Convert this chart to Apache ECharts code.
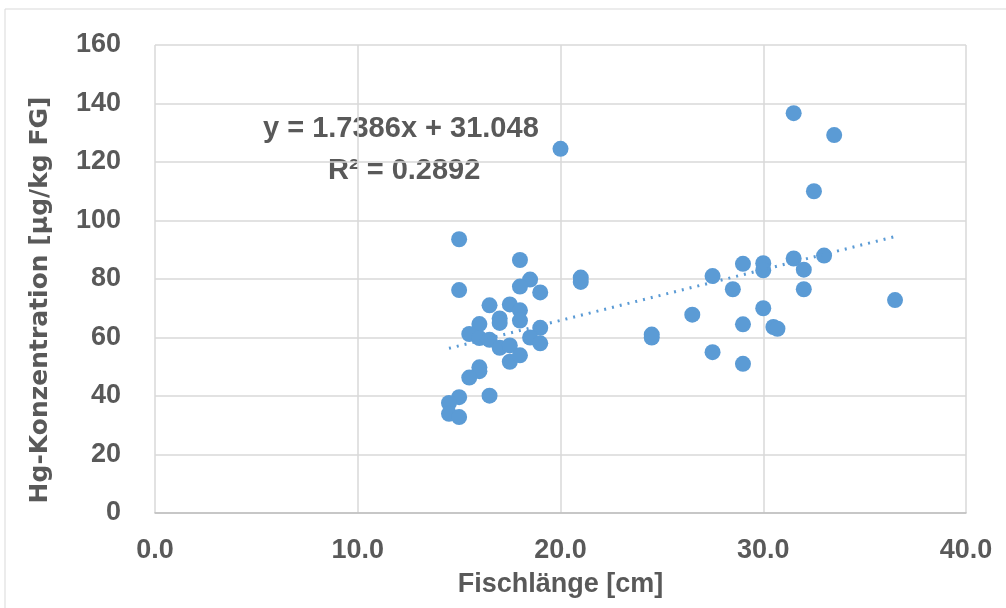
<!DOCTYPE html>
<html>
<head>
<meta charset="utf-8">
<script src="https://cdn.jsdelivr.net/npm/echarts@6/dist/echarts.min.js"></script>
<style>
  html, body { margin: 0; padding: 0; background: #fff; }
  #chart { width: 1006px; height: 608px; }
</style>
</head>
<body>
<div id="chart"></div>
<script>
// Fischlänge [cm] / Hg-Konzentration [µg/kg FG]
var lengths = [15, 18, 18.5, 18, 15, 19, 16.5, 17.5, 18, 17, 17, 18, 16, 19, 15.5, 16, 16.5, 18.5, 19,
  17, 17.5, 17.5, 18, 16, 16, 15.5, 16.5, 15, 14.5, 14.5, 15,
  20, 21, 21, 24.5, 24.5, 26.5, 27.5, 27.5, 28.5, 29, 29, 29, 30, 30, 30, 30.5, 30.7,
  31.5, 31.5, 32, 32, 32.5, 33, 33.5, 36.5];
var hgValues = [93.6, 86.5, 79.8, 77.4, 76.2, 75.4, 71, 71.3, 69.3, 66.5, 65, 65.8, 64.6, 63.3, 61.2, 59.8, 59.2, 60, 58,
  56.5, 57.3, 51.7, 53.9, 49.8, 48.5, 46.3, 40.1, 39.6, 37.6, 33.9, 32.8,
  124.5, 80.5, 79, 61, 60, 67.8, 81, 55, 76.5, 85.2, 64.5, 51, 85.4, 83, 70, 63.6, 63,
  136.7, 87, 83.2, 76.5, 110, 88, 129.2, 72.8];
// trendline ends as drawn (dotted)
var trendX = [14.5, 36.5];
var trendY = [56.3, 94.5];

var points = lengths.map(function (x, i) { return [x, hgValues[i]]; });
var trend = trendX.map(function (x, i) { return [x, trendY[i]]; });

var font = '"Liberation Sans", sans-serif';

var myChart = echarts.init(document.getElementById('chart'));
var option = {
  backgroundColor: '#fff',
  animation: false,
  grid: { left: 155, right: 40, top: 45, bottom: 95 },
  graphic: [
    { type: 'rect', shape: { x: 5, y: 9, width: 1010, height: 610 },
      style: { fill: 'none', stroke: '#d9d9d9', lineWidth: 1 } },
    { type: 'text', left: 263, top: 114,
      style: { text: 'y = 1.7386x + 31.048', fill: '#595959', font: 'bold 29px ' + font } },
    { type: 'text', left: 328, top: 156,
      style: { text: 'R² = 0.2892', fill: '#595959', font: 'bold 29px ' + font } }
  ],
  xAxis: {
    type: 'value', min: 0, max: 40, interval: 10,
    name: 'Fischlänge [cm]', nameLocation: 'middle', nameGap: 58,
    nameTextStyle: { color: '#595959', fontSize: 27, fontWeight: 'bold', fontFamily: font },
    axisLine: { show: true, lineStyle: { color: '#bfbfbf', width: 1.5 } },
    axisTick: { show: false },
    splitLine: { show: true, lineStyle: { color: '#d9d9d9', width: 1.5 } },
    axisLabel: {
      color: '#595959', fontSize: 27, fontWeight: 'bold', margin: 24, fontFamily: font,
      formatter: function (v) { return v.toFixed(1); }
    }
  },
  yAxis: {
    type: 'value', min: 0, max: 160, interval: 20,
    name: 'Hg-Konzentration [µg/kg FG]', nameLocation: 'middle', nameGap: 102,
    nameTextStyle: {
      color: '#595959', fontSize: 25, fontWeight: 'bold', fontFamily: '"DejaVu Sans", sans-serif',
      padding: [0, 42, 0, 0]
    },
    axisLine: { show: false },
    axisTick: { show: false },
    splitLine: { show: true, lineStyle: { color: '#d9d9d9', width: 1.5 } },
    axisLabel: { color: '#595959', fontSize: 27, fontWeight: 'bold', margin: 34, fontFamily: font }
  },
  series: [
    {
      type: 'scatter', data: points, symbolSize: 16,
      itemStyle: { color: '#5b9bd5', opacity: 1 }
    },
    {
      type: 'line', data: trend, symbol: 'none',
      lineStyle: { color: '#5b9bd5', width: 3, type: [2, 6] }
    }
  ]
};
myChart.setOption(option);
</script>
</body>
</html>
